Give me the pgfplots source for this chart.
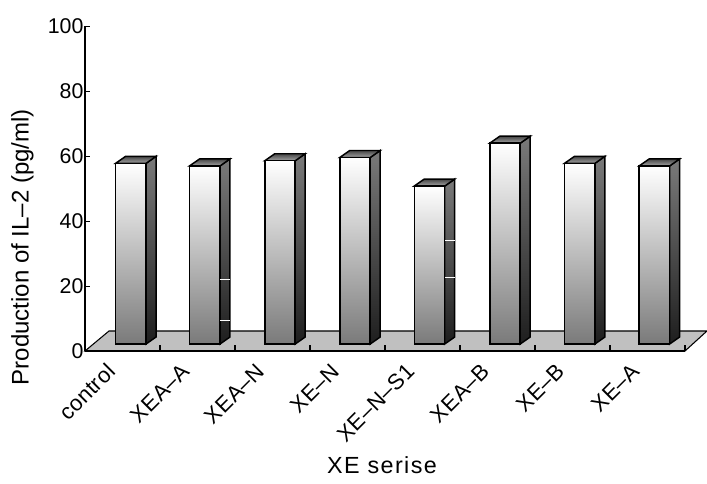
\documentclass[border=0pt]{standalone}
\usepackage{pgfplots}
\pgfplotsset{compat=1.18}
\usepackage{fontspec}
\setmainfont{Liberation Sans}
\definecolor{floorgray}{RGB}{192,192,192}
\definecolor{frontlow}{RGB}{122,122,122}
\definecolor{sidehigh}{RGB}{122,122,122}
\definecolor{sidelow}{RGB}{30,30,30}
\definecolor{caphigh}{RGB}{70,70,70}
\definecolor{caplow}{RGB}{165,165,165}
% one column: front, side and cap faces; #1 centre on the category scale, #2 top of the front face
\newcommand{\column}[2]{%
  \pgfmathsetmacro{\xl}{#1-0.203}%
  \pgfmathsetmacro{\xr}{#1+0.203}%
  \pgfmathsetmacro{\xbl}{#1-0.203+0.133}%
  \pgfmathsetmacro{\xbr}{#1+0.203+0.133}%
  \pgfmathsetmacro{\ytop}{#2}%
  \pgfmathsetmacro{\ybt}{#2+2.15}%
  \addplot[draw=black,line width=1.1pt,top color=sidehigh,bottom color=sidelow,forget plot]
    coordinates {(\xr,2.15) (\xbr,4.3) (\xbr,\ybt) (\xr,\ytop)} -- cycle;
  \addplot[draw=black,line width=1.1pt,top color=caphigh,bottom color=caplow,forget plot]
    coordinates {(\xl,\ytop) (\xr,\ytop) (\xbr,\ybt) (\xbl,\ybt)} -- cycle;
  \addplot[draw=black,line width=1.1pt,top color=white,bottom color=frontlow,forget plot]
    coordinates {(\xl,2.15) (\xr,2.15) (\xr,\ytop) (\xl,\ytop)} -- cycle;
}
\begin{document}
\begin{tikzpicture}[x=0.75pt,y=0.75pt]
\path[use as bounding box] (-85,-133) rectangle (622,351);
\begin{axis}[
  at={(0,0)},anchor=south west,
  scale only axis,
  width=450pt,height=243.5pt,
  xmin=0,xmax=8,ymin=0,ymax=100,
  clip=false,
  axis on top,
  axis lines=left,
  axis line style={-,line width=0.9pt,black},
  tick align=inside,
  tick style={black,line width=0.8pt},
  major tick length=4pt,
  minor tick length=4.5pt,
  ytick={0,20,40,60,80,100},
  xtick={0.5,1.5,2.5,3.5,4.5,5.5,6.5,7.5},
  xticklabels={control,XEA–A,XEA–N,XE–N,XE–N–S1,XEA–B,XE–B,XE–A},
  minor xtick={1,2,3,4,5,6,7,8},
  x tick style={draw=none},
  minor x tick style={draw=black,line width=0.8pt},
  xticklabel style={rotate=45,anchor=north east,font=\addfontfeatures{LetterSpace=2}\fontsize{16.5}{16.5}\selectfont,inner sep=1pt,xshift=-13.8pt,yshift=4.4pt},
  yticklabel style={font=\fontsize{16}{16}\selectfont,inner sep=1pt},
  /pgf/number format/assume math mode=true,
  xlabel={\addfontfeatures{LetterSpace=6}XE serise},
  ylabel={Production of IL–2 (pg/ml)},
  xlabel style={font=\fontsize{17.5}{17.5}\selectfont,at={(axis description cs:0.495,0)},anchor=north,yshift=-75.5pt},
  ylabel style={font=\fontsize{18}{18}\selectfont,at={(axis description cs:0,0.32)},anchor=south,yshift=35pt},
]
% floor of the chart
\addplot[draw=black,line width=0.8pt,fill=floorgray,forget plot]
  coordinates {(0,0) (8,0) (8.293,6.16) (0.32,6.16)} -- cycle;
% columns
\column{0.611}{57.8}
\column{1.597}{57.0}
\column{2.600}{58.6}
\column{3.600}{59.6}
\column{4.593}{50.8}
\column{5.600}{64.0}
\column{6.596}{57.8}
\column{7.592}{57.0}
% short white marks on two of the side faces
\addplot[white,line width=0.8pt,forget plot] coordinates {(1.805,22.0) (1.935,22.0)};
\addplot[white,line width=0.8pt,forget plot] coordinates {(1.805,9.3) (1.935,9.3)};
\addplot[white,line width=0.8pt,forget plot] coordinates {(4.801,34.1) (4.931,34.1)};
\addplot[white,line width=0.8pt,forget plot] coordinates {(4.801,22.7) (4.931,22.7)};
\end{axis}
\end{tikzpicture}
\end{document}
